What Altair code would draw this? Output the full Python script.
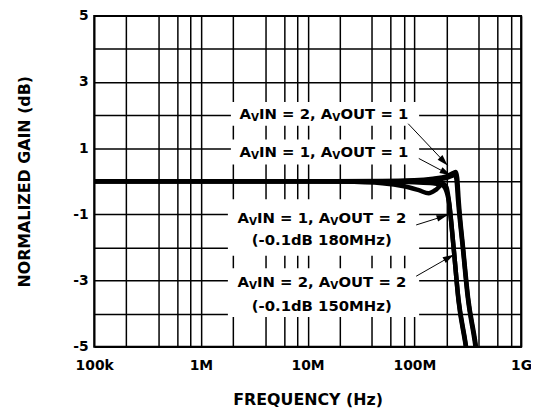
import math
import altair as alt
import pandas as pd

W, H = 431, 334
FONT = "DejaVu Sans"

# ---- curve data (frequency in Hz, normalized gain in dB) ----
series = ["AvIN=2, AvOUT=1", "AvIN=1, AvOUT=1", "AvIN=1, AvOUT=2", "AvIN=2, AvOUT=2"]
freq_21 = [1e5, 1e6, 1e7, 5e7, 1e8, 1.5e8, 2e8, 2.3e8, 2.45e8, 2.52e8, 2.6e8, 2.88e8, 3.2e8, 3.74e8, 3.95e8]
gain_21 = [0, 0, 0, 0.01, 0.03, 0.08, 0.15, 0.25, 0.28, 0.1, -0.57, -2.1, -3.56, -4.9, -5.5]
freq_11 = [1e5, 1e6, 1e7, 5e7, 1e8, 1.5e8, 2e8, 2.3e8, 2.4e8, 2.48e8, 2.57e8, 2.86e8, 3.16e8, 3.7e8, 3.92e8]
gain_11 = [0, 0, 0, 0, 0.02, 0.05, 0.1, 0.18, 0.2, 0.05, -0.6, -2.1, -3.5, -4.9, -5.5]
freq_12 = [1e5, 1e6, 1e7, 5e7, 1e8, 1.5e8, 1.8e8, 1.95e8, 2.1e8, 2.33e8, 2.59e8, 3.02e8, 3.2e8]
gain_12 = [0, 0, 0, -0.01, -0.03, -0.06, -0.1, -0.22, -0.6, -2.0, -3.56, -4.9, -5.5]
freq_22 = [1e5, 1e6, 1e7, 2e7, 5e7, 8e7, 1.1e8, 1.36e8, 1.6e8, 1.85e8, 2e8, 2.12e8, 2.34e8, 2.59e8, 3.02e8, 3.2e8]
gain_22 = [0, 0, 0, -0.01, -0.06, -0.15, -0.27, -0.36, -0.25, -0.08, -0.18, -0.65, -2.05, -3.6, -4.95, -5.5]

# ---- annotation data ----
label_texts = ["AVIN = 2, AVOUT = 1", "AVIN = 1, AVOUT = 1", "AVIN = 1, AVOUT = 2",
               "(-0.1dB 180MHz)", "AVIN = 2, AVOUT = 2", "(-0.1dB 150MHz)"]
label_freq = [1.42e7, 1.42e7, 1.36e7, 1.36e7, 1.36e7, 1.36e7]
label_gain = [2.04, 0.87, -1.11, -1.77, -3.05, -3.77]

box_f1 = [1.91e6, 1.91e6, 1.79e6, 1.79e6, 8.75e7]
box_f2 = [1.107e8, 1.107e8, 1.107e8, 1.107e8, 1.107e8]
box_g1 = [2.40, 1.26, -0.54, -2.63, 2.40]
box_g2 = [1.68, 0.51, -2.25, -4.10, -4.10]

arrow_f1 = [8.75e7, 1.10e8, 1.04e8, 1.04e8]
arrow_g1 = [1.74, 0.69, -1.32, -2.87]
arrow_f2 = [2.05e8, 2.19e8, 2.05e8, 2.34e8]
arrow_g2 = [0.48, 0.18, -1.02, -2.22]

x_grid = [m * 10 ** e for e in range(5, 9) for m in (1, 2, 4, 6, 8)] + [10 ** 9]
y_grid = list(range(-5, 6))

# ---- helpers ----
CW = {' ': 0.348, 'A': 0.774, 'B': 0.762, 'I': 0.372, 'N': 0.837, 'O': 0.850, 'T': 0.682,
      'U': 0.812, 'V': 0.774, 'M': 0.995, 'H': 0.837, '=': 0.838, ',': 0.380, '.': 0.380,
      '(': 0.457, ')': 0.457, '-': 0.415, 'd': 0.716, 'z': 0.593}
for dgt in "0123456789":
    CW[dgt] = 0.696

MAIN, SUB = 15, 10.5


def px_x(f):
    return W * (math.log10(f) - 5) / 4


def f_px(p):
    return 10 ** (5 + 4 * p / W)


def px_y(g):
    return H * (5 - g) / 10


def text_w(s, size):
    return sum(CW.get(c, 0.6) for c in s) * size


main_rows, sub_rows = [], []
for txt, lf, lg in zip(label_texts, label_freq, label_gain):
    pieces = []
    cur = ""
    i = 0
    while i < len(txt):
        c = txt[i]
        if c == 'V' and i > 0 and txt[i - 1] == 'A':
            pieces.append((cur, False))
            pieces.append(("V", True))
            cur = ""
        else:
            cur += c
        i += 1
    if cur:
        pieces.append((cur, False))
    total = sum(text_w(s, SUB if sub else MAIN) for s, sub in pieces)
    start = px_x(lf) - total / 2
    for s, sub in pieces:
        row = {"f": f_px(start), "g": lg, "t": s}
        (sub_rows if sub else main_rows).append(row)
        start += text_w(s, SUB if sub else MAIN)

curve_rows = []
for name, fs, gs in zip(series, [freq_21, freq_11, freq_12, freq_22], [gain_21, gain_11, gain_12, gain_22]):
    for f, g in zip(fs, gs):
        curve_rows.append({"s": name, "f": f, "g": g})

box_df = pd.DataFrame({"f": box_f1, "f2": box_f2, "g": box_g1, "g2": box_g2})
arrow_rows = []
for f1, g1, f2, g2 in zip(arrow_f1, arrow_g1, arrow_f2, arrow_g2):
    dx = px_x(f2) - px_x(f1)
    dy = px_y(g2) - px_y(g1)
    ang = math.degrees(math.atan2(dx, -dy)) % 360
    arrow_rows.append({"f": f1, "g": g1, "f2": f2, "g2": g2, "ang": ang})
arrow_df = pd.DataFrame(arrow_rows)
head_df = pd.DataFrame({"f": arrow_df["f2"], "g": arrow_df["g2"], "ang": arrow_df["ang"]})

# ---- scales & axes ----
xs = alt.Scale(type="log", domain=[1e5, 1e9], nice=False)
ys = alt.Scale(domain=[-5, 5], nice=False)

x_label_expr = ("datum.value == 100000 ? '100k' : datum.value == 1000000 ? '1M' : "
                "datum.value == 10000000 ? '10M' : datum.value == 100000000 ? '100M' : "
                "datum.value == 1000000000 ? '1G' : ''")
x_axis = alt.Axis(values=x_grid, labelExpr=x_label_expr, grid=True, gridColor="black",
                  gridWidth=1.5, gridOpacity=1, ticks=False, tickSize=0, domain=False,
                  labelFont=FONT, labelFontSize=14, labelFontWeight="bold", labelColor="black",
                  labelPadding=12, labelFlush=False, labelOverlap=False,
                  title="FREQUENCY (Hz)", titleFont=FONT, titleFontSize=16, titleFontWeight="bold",
                  titleColor="black", titleX=W / 2, titleY=58, titleBaseline="alphabetic",
                  titleAlign="center")
y_axis = alt.Axis(values=y_grid,
                  labelExpr="datum.value % 2 != 0 ? '' + datum.value : ''",
                  grid=True, gridColor="black", gridWidth=1.5, gridOpacity=1, ticks=False,
                  tickSize=0, domain=False, labelFont=FONT, labelFontSize=14,
                  labelFontWeight="bold", labelColor="black", labelPadding=6,
                  labelOverlap=False,
                  title="NORMALIZED GAIN (dB)", titleFont=FONT, titleFontSize=16,
                  titleFontWeight="bold", titleColor="black", titleAngle=270,
                  titleX=-65, titleY=H / 2, titleBaseline="alphabetic", titleAlign="center")

X = alt.X("f:Q", scale=xs, axis=x_axis)
Y = alt.Y("g:Q", scale=ys, axis=y_axis)

boxes = alt.Chart(box_df).mark_rect(color="white", opacity=1).encode(
    x=X, x2="f2:Q", y=Y, y2="g2:Q")

curves = alt.Chart(pd.DataFrame(curve_rows)).mark_line(
    color="black", strokeWidth=4.5, clip=True, interpolate="monotone").encode(
    x=X, y=Y, detail="s:N", order=alt.Order("f:Q"))

shafts = alt.Chart(arrow_df).mark_rule(color="black", strokeWidth=1).encode(
    x=X, x2="f2:Q", y=Y, y2="g2:Q")

heads = alt.Chart(head_df).mark_point(
    shape="M0,0 L0.3,1 L-0.3,1 Z", filled=True, size=500, color="black",
    opacity=1, strokeWidth=0).encode(
    x=X, y=Y, angle=alt.Angle("ang:Q", scale=None))

main_text = alt.Chart(pd.DataFrame(main_rows)).mark_text(
    align="left", baseline="middle", font=FONT, fontSize=MAIN, fontWeight="bold",
    color="black").encode(x=X, y=Y, text="t:N")

sub_text = alt.Chart(pd.DataFrame(sub_rows)).mark_text(
    align="left", baseline="middle", font=FONT, fontSize=SUB, fontWeight="bold",
    color="black", dy=4).encode(x=X, y=Y, text="t:N")

chart = alt.layer(boxes, curves, shafts, heads, main_text, sub_text).properties(
    width=W, height=H,
    padding={"left": 87, "top": 6, "right": 10, "bottom": 66},
    autosize=alt.AutoSizeParams(type="none"),
    background="white",
).configure_view(stroke="black", strokeWidth=2)

chart.save("out.html", embed_options={"renderer": "svg", "actions": False})
